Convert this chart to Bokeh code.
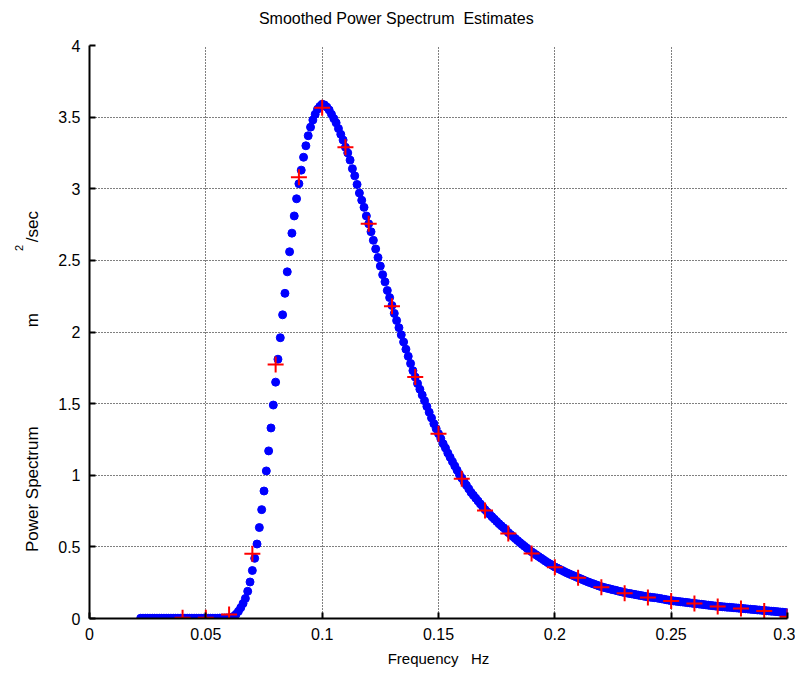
import numpy as np
from bokeh.plotting import figure
from bokeh.models import Range1d, FixedTicker, LinearAxis
from bokeh.embed import file_html
from bokeh.resources import INLINE

# ---- data ----
freq_start = 0.022
freq_step = 0.001
smoothed_psd = [
    0.002, 0.002, 0.002, 0.002, 0.002, 0.002, 0.002, 0.002,
    0.002, 0.002, 0.002, 0.002, 0.002, 0.002, 0.002, 0.002, 0.002, 0.002,
    0.002, 0.002, 0.002, 0.002, 0.002, 0.002, 0.002, 0.002, 0.002, 0.002,
    0.002, 0.002, 0.002, 0.002, 0.002, 0.002, 0.003, 0.003, 0.003, 0.004,
    0.005, 0.008, 0.015, 0.03, 0.05, 0.075, 0.105, 0.14, 0.19, 0.255,
    0.335, 0.42, 0.52, 0.635, 0.76, 0.89, 1.03, 1.17, 1.33, 1.49,
    1.65, 1.81, 1.96, 2.12, 2.27, 2.42, 2.56, 2.69, 2.81, 2.93,
    3.035, 3.13, 3.22, 3.30, 3.37, 3.43, 3.48, 3.52, 3.555, 3.575,
    3.59, 3.585, 3.57, 3.55, 3.52, 3.49, 3.46, 3.42, 3.38, 3.34,
    3.29, 3.25, 3.20, 3.14, 3.09, 3.03, 2.97, 2.92, 2.87, 2.81,
    2.755, 2.70, 2.64, 2.58, 2.52, 2.46, 2.40, 2.35, 2.29, 2.24,
    2.185, 2.13, 2.08, 2.03, 1.98, 1.93, 1.88, 1.83, 1.78, 1.73,
    1.685, 1.64, 1.60, 1.56, 1.52, 1.48, 1.44, 1.40, 1.36, 1.325,
    1.29, 1.255, 1.22, 1.19, 1.155, 1.125, 1.095, 1.065, 1.035, 1.005,
    0.98, 0.955, 0.93, 0.905, 0.88, 0.86, 0.84, 0.82, 0.80, 0.78,
    0.76, 0.743, 0.727, 0.71, 0.694, 0.678, 0.662, 0.647, 0.633, 0.618,
    0.60, 0.586, 0.572, 0.558, 0.544, 0.53, 0.517, 0.504, 0.491, 0.478,
    0.466, 0.455, 0.444, 0.433, 0.422, 0.411, 0.40, 0.39, 0.38, 0.37,
    0.36, 0.352, 0.344, 0.336, 0.328, 0.32, 0.313, 0.306, 0.299, 0.292,
    0.285, 0.278, 0.271, 0.264, 0.257, 0.251, 0.245, 0.239, 0.233, 0.227,
    0.222, 0.217, 0.213, 0.209, 0.205, 0.201, 0.197, 0.193, 0.189, 0.185,
    0.181, 0.178, 0.175, 0.172, 0.169, 0.166, 0.163, 0.16, 0.157, 0.154,
    0.151, 0.149, 0.147, 0.145, 0.143, 0.14, 0.137, 0.134, 0.131, 0.128,
    0.125, 0.123, 0.121, 0.119, 0.117, 0.115, 0.113, 0.111, 0.109, 0.107,
    0.105, 0.103, 0.101, 0.099, 0.097, 0.095, 0.093, 0.091, 0.089, 0.087,
    0.085, 0.084, 0.082, 0.081, 0.079, 0.078, 0.077, 0.075, 0.074, 0.072,
    0.071, 0.069, 0.068, 0.066, 0.065, 0.063, 0.062, 0.06, 0.059, 0.057,
    0.056, 0.054, 0.053, 0.051, 0.05, 0.048, 0.047, 0.045, 0.044, 0.042,
    0.04,
]
cross_freq = [0.04, 0.05, 0.06, 0.07, 0.08, 0.09, 0.10, 0.11, 0.12, 0.13,
              0.14, 0.15, 0.16, 0.17, 0.18, 0.19, 0.20, 0.21, 0.22, 0.23,
              0.24, 0.25, 0.26, 0.27, 0.28, 0.29, 0.30]
cross_psd = [0.005, 0.005, 0.028, 0.452, 1.773, 3.08, 3.565, 3.29, 2.755, 2.18,
             1.685, 1.29, 0.975, 0.754, 0.594, 0.454, 0.358, 0.284, 0.218, 0.176,
             0.147, 0.123, 0.105, 0.083, 0.07, 0.052, 0.012]
x_ticks = [0, 0.05, 0.1, 0.15, 0.2, 0.25, 0.3]
x_tick_labels = ["0", "0.05", "0.1", "0.15", "0.2", "0.25", "0.3"]
y_ticks = [0, 0.5, 1, 1.5, 2, 2.5, 3, 3.5, 4]
y_tick_labels = ["0", "0.5", "1", "1.5", "2", "2.5", "3", "3.5", "4"]

freq = np.round(freq_start + freq_step * np.arange(len(smoothed_psd)), 4)

FONT = "Liberation Sans"
NB = "\u00a0"

p = figure(width=795, height=671, output_backend="svg", toolbar_location=None,
           title_location=None,
           x_range=Range1d(0, 0.3), y_range=Range1d(0, 4),
           min_border_left=89, min_border_right=8, min_border_top=45,
           min_border_bottom=53)
p.outline_line_color = None
p.background_fill_color = "white"
p.border_fill_color = "white"

xax = p.xaxis[0]
yax = p.yaxis[0]
for ax, ticks, labels in ((xax, x_ticks, x_tick_labels), (yax, y_ticks, y_tick_labels)):
    ax.ticker = FixedTicker(ticks=ticks)
    ax.major_label_overrides = {t: l for t, l in zip(ticks, labels)}
    ax.axis_line_color = "black"
    ax.axis_line_width = 2
    ax.major_tick_in = 6
    ax.major_tick_out = 0
    ax.major_tick_line_width = 2
    ax.major_tick_line_color = "black"
    ax.minor_tick_line_color = None
    ax.major_label_text_font = FONT
    ax.major_label_text_font_size = "16px"
    ax.major_label_text_color = "black"
    ax.major_label_standoff = 9
    ax.axis_label_text_font = FONT
    ax.axis_label_text_font_style = "normal"
    ax.axis_label_text_color = "black"

xax.axis_label = "Frequency" + NB * 3 + "Hz"
xax.axis_label_text_font_size = "15px"
xax.axis_label_standoff = 7

# y-axis label: "Power Spectrum   m  2/sec" spread out as in the reference
yax.axis_label = ("Power Spectrum" + NB * 21 + "m" + NB * 15 + "/sec" + NB * 21)
yax.axis_label_text_font_size = "17px"
yax.axis_label_standoff = 13


def bare_axis(label, size, standoff):
    ax = LinearAxis(axis_label=label, ticker=FixedTicker(ticks=[]))
    ax.axis_line_color = None
    ax.major_tick_line_color = None
    ax.minor_tick_line_color = None
    ax.major_label_text_font_size = "0px"
    ax.major_label_standoff = 0
    ax.axis_label_text_font = FONT
    ax.axis_label_text_font_size = size
    ax.axis_label_text_font_style = "normal"
    ax.axis_label_text_color = "black"
    ax.axis_label_standoff = standoff
    return ax


# the raised "2" of m^2/sec
p.add_layout(bare_axis(NB * 55 + "2", "11px", -4), "left")
# title, carried by a bare axis above the frame (shifted left of centre)
p.add_layout(bare_axis("Smoothed Power Spectrum" + NB * 2 + "Estimates" + NB * 19,
                       "16px", 19), "above")

p.xgrid.ticker = FixedTicker(ticks=x_ticks)
p.ygrid.ticker = FixedTicker(ticks=y_ticks)
for g in (p.xgrid, p.ygrid):
    g.grid_line_color = "black"
    g.grid_line_dash = "1 2"
    g.grid_line_width = 1

p.scatter(freq, smoothed_psd, size=8, marker="circle", color="#0000ff")
p.scatter(cross_freq, cross_psd, size=16, marker="cross", line_color="#ff0000",
          line_width=2)

open("out.html", "w").write(file_html(p, INLINE))
